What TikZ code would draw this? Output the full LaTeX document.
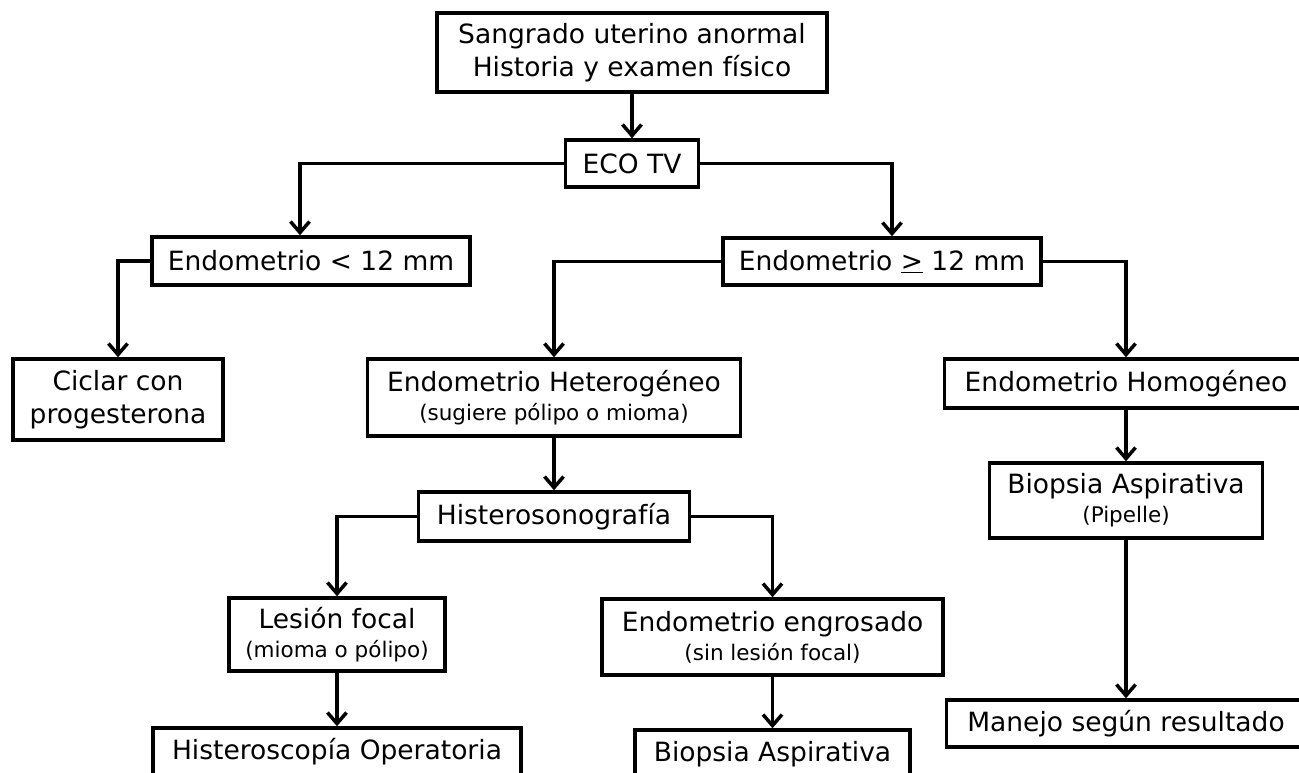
\documentclass[tikz,border=0pt]{standalone}
\usepackage{fontspec}
\setmainfont{DejaVu Sans}
\usetikzlibrary{arrows.meta}
\newcommand{\smalltxt}[1]{{\fontsize{21.5}{26}\selectfont #1}}
\begin{document}
\begin{tikzpicture}[x=1pt,y=-1pt,
  box/.style={draw, line width=3.5pt, align=center, inner sep=0pt,
    font=\fontsize{26.5}{33}\selectfont},
  arr/.style={line width=3.5pt, -{Straight Barb[length=11pt,width=19pt,line width=3.5pt]}}]
\useasboundingbox (0,0) rectangle (1299,773);
\clip (0,0) rectangle (1299,773);

% boxes
\node[box, minimum width=390, minimum height=79] (top) at (632,52.5)
  {Sangrado uterino anormal\\Historia y examen físico};
\node[box, minimum width=133, minimum height=47] (eco) at (632,163.5) {ECO TV};
\node[box, minimum width=318, minimum height=48] (lt) at (311,261) {Endometrio < 12 mm};
\node[box, minimum width=318, minimum height=47] (ge) at (882,261.5) {Endometrio \underline{>} 12 mm};
\node[box, minimum width=210, minimum height=81] (cic) at (118,399.5) {Ciclar con\\progesterona};
\node[box, minimum width=373, minimum height=77] (het) at (554,397.5)
  {Endometrio Heterogéneo\\[-4pt]\smalltxt{(sugiere pólipo o mioma)}};
\node[box, minimum width=363, minimum height=49] (hom) at (1126,383.5) {Endometrio Homogéneo};
\node[box, minimum width=271, minimum height=49] (hs) at (554,516.5) {Histerosonografía};
\node[box, minimum width=273, minimum height=75] (pip) at (1126,500.5)
  {Biopsia Aspirativa\\[-4pt]\smalltxt{(Pipelle)}};
\node[box, minimum width=216, minimum height=73] (les) at (337,634.5)
  {Lesión focal\\[-4pt]\smalltxt{(mioma o pólipo)}};
\node[box, minimum width=341, minimum height=76] (eng) at (772.5,637)
  {Endometrio engrosado\\[-4pt]\smalltxt{(sin lesión focal)}};
\node[box, minimum width=368, minimum height=48] (hsc) at (337,752) {Histeroscopía Operatoria};
\node[box, minimum width=275, minimum height=48] (bio) at (772.5,754) {Biopsia Aspirativa};
\node[box, minimum width=359, minimum height=47] (man) at (1126,723.5) {Manejo según resultado};

% connectors
\draw[arr] (top) -- (eco);
\draw[arr] (eco.west) -| ([xshift=-11pt]lt.north);
\draw[arr] (eco.east) -| ([xshift=10pt]ge.north);
\draw[arr] (lt.west) -| (cic.north);
\draw[arr] (ge.west) -| (het.north);
\draw[arr] (ge.east) -| (hom.north);
\draw[arr] (het) -- (hs);
\draw[arr] (hs.west) -| (les.north);
\draw[arr] (hs.east) -| (eng.north);
\draw[arr] (les) -- (hsc);
\draw[arr] (eng) -- (bio);
\draw[arr] (hom) -- (pip);
\draw[arr] (pip) -- (man);
\end{tikzpicture}
\end{document}
